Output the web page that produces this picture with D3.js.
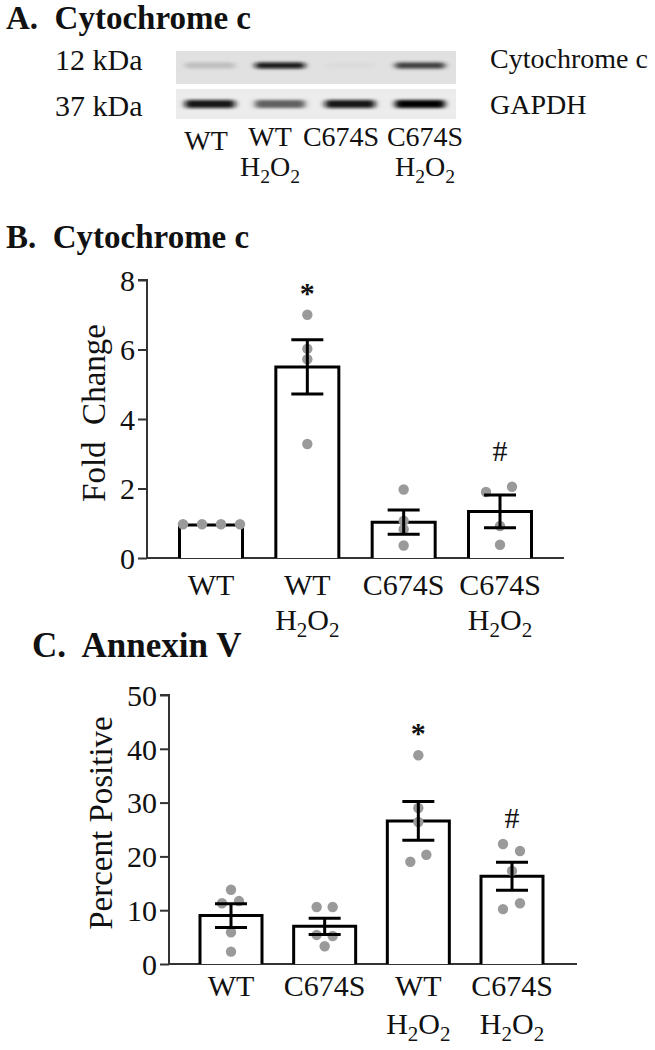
<!DOCTYPE html>
<html>
<head>
<meta charset="utf-8">
<script src="https://cdn.jsdelivr.net/npm/d3@7"></script>
<style>
  body { margin: 0; background: #fff; }
  text { font-family: "Liberation Serif", "Times New Roman", serif; fill: #111; }
</style>
</head>
<body>
<div id="fig"></div>
<script>
// panel A: blot lanes and band strength (0..1, read by eye)
let laneNames = ["WT", "WT", "C674S", "C674S"];
let laneTreat = [false, true, false, true];
let cytoBand = [0.35, 0.95, 0.1, 0.85];
let gapdhBand = [0.95, 0.75, 0.95, 1.0];

// panel B: cytochrome c fold change
let groupsB = ["WT", "WT H2O2", "C674S", "C674S H2O2"];
let meanB = [0.95, 5.5, 1.03, 1.34];
let semB = [0.0, 0.78, 0.35, 0.47];
let pointsB = [
    [0.97, 0.97, 0.97, 0.97],
    [7.0, 6.02, 5.72, 3.28],
    [1.97, 1.07, 0.83, 0.36],
    [1.9, 2.05, 0.92, 0.38]
];
let starB = ["", "*", "", "#"];

// panel C: annexin V percent positive
let groupsC = ["WT", "C674S", "WT H2O2", "C674S H2O2"];
let meanC = [9.0, 7.0, 26.6, 16.3];
let semC = [2.2, 1.5, 3.6, 2.6];
let pointsC = [
    [13.8, 11.3, 11.7, 5.9, 2.3],
    [10.6, 10.6, 5.4, 5.2, 3.3],
    [38.8, 29.0, 26.4, 19.0, 20.3],
    [22.3, 21.0, 17.3, 10.2, 11.3]
];
let starC = ["", "", "*", "#"];

let svg = d3.select("#fig").append("svg")
    .attr("width", 655)
    .attr("height", 1050);

let defs = svg.append("defs");
defs.append("filter").attr("id", "blur")
    .attr("x", "-30%").attr("y", "-100%").attr("width", "160%").attr("height", "300%")
    .append("feGaussianBlur").attr("stdDeviation", "3 1.8");

function title(x, y, txt, size) {
    svg.append("text")
        .attr("x", x).attr("y", y)
        .attr("font-size", size + "px")
        .attr("font-weight", "bold")
        .attr("xml:space", "preserve")
        .text(txt);
}

// two-line group label, second line H2O2 with subscripts
function groupLabel(g, x, y, name, size, gap) {
    let parts = name.split(" ");
    g.append("text")
        .attr("x", x).attr("y", y)
        .attr("text-anchor", "middle")
        .attr("font-size", size + "px")
        .text(parts[0]);
    if (parts.length > 1) {
        let t = g.append("text")
            .attr("x", x).attr("y", y + gap)
            .attr("text-anchor", "middle")
            .attr("font-size", size + "px");
        t.append("tspan").text("H");
        t.append("tspan").attr("font-size", (size * 0.7) + "px").attr("dy", 7).text("2");
        t.append("tspan").attr("dy", -7).text("O");
        t.append("tspan").attr("font-size", (size * 0.7) + "px").attr("dy", 7).text("2");
    }
}

// ---------- A ----------
title(6, 29, "A.  Cytochrome c", 33);

let lanes = d3.scalePoint().domain(d3.range(4)).range([210, 420]);
let blot = svg.append("g");
[[51, 84, "#e1e1e1", cytoBand, 6], [89, 119, "#ececec", gapdhBand, 8]].forEach((row, r) => {
    blot.append("rect")
        .attr("x", 176).attr("y", row[0])
        .attr("width", 280).attr("height", row[1] - row[0])
        .attr("fill", row[2]);
    let mid = (row[0] + row[1]) / 2 + (r === 0 ? -2 : 0);
    row[3].forEach((v, i) => {
        blot.append("rect")
            .attr("x", lanes(i) - 25).attr("y", mid - row[4] / 2)
            .attr("width", 50).attr("height", row[4])
            .attr("rx", 3)
            .attr("fill", d3.interpolateGreys(0.2 + v * 0.8))
            .attr("opacity", 0.25 + v * 0.75)
            .attr("filter", "url(#blur)");
    });
});

svg.append("text").attr("x", 55).attr("y", 70).attr("font-size", "30px").text("12 kDa");
svg.append("text").attr("x", 55).attr("y", 116).attr("font-size", "30px").text("37 kDa");
svg.append("text").attr("x", 490).attr("y", 68).attr("font-size", "28px").text("Cytochrome c");
svg.append("text").attr("x", 490).attr("y", 114).attr("font-size", "28px").text("GAPDH");

let laneLab = d3.scaleOrdinal().domain(d3.range(4)).range([206, 270, 341, 425]);
laneNames.forEach((n, i) => {
    groupLabel(svg, laneLab(i), i === 0 ? 150 : 146, n + (laneTreat[i] ? " H2O2" : ""), 28, 30);
});

// ---------- bar panel ----------
function barPanel(opt) {
    let g = svg.append("g");
    let y = d3.scaleLinear().domain([0, opt.max]).range([opt.y0, opt.y1]);
    let x = d3.scalePoint().domain(opt.groups).range(opt.xr);
    let bw = opt.bw;

    g.append("g")
        .attr("transform", "translate(" + opt.ax + ",0)")
        .call(d3.axisLeft(y).tickValues(d3.range(0, opt.max + 1, opt.step)).tickSize(9).tickPadding(3))
        .call(a => a.selectAll("path, line").attr("stroke", "#333").attr("stroke-width", 2))
        .call(a => a.select(".domain").attr("d", "M-9," + y(opt.max) + "H0V" + y(0)))
        .call(a => a.selectAll("text")
            .attr("font-family", "Liberation Serif")
            .attr("font-size", "30px")
            .attr("fill", "#111")
            .attr("dy", "0.34em"));

    g.append("line")
        .attr("x1", opt.ax).attr("x2", opt.axEnd)
        .attr("y1", y(0)).attr("y2", y(0))
        .attr("stroke", "#333").attr("stroke-width", 2);

    opt.groups.forEach((grp, i) => {
        let cx = x(grp);
        g.append("path")
            .attr("d", "M" + (cx - bw / 2) + "," + y(0) + "V" + y(opt.mean[i]) + "H" + (cx + bw / 2) + "V" + y(0))
            .attr("fill", "#fff")
            .attr("stroke", "#000")
            .attr("stroke-width", 3);
    });

    opt.groups.forEach((grp, i) => {
        let cx = x(grp);
        opt.points[i].forEach((v, j) => {
            g.append("circle")
                .attr("cx", cx + opt.jitter[i][j])
                .attr("cy", y(v))
                .attr("r", 5.2)
                .attr("fill", "#9a9a9a");
        });
    });

    opt.groups.forEach((grp, i) => {
        let cx = x(grp);
        if (opt.sem[i] > 0) {
            let hi = y(opt.mean[i] + opt.sem[i]), lo = y(opt.mean[i] - opt.sem[i]);
            g.append("path")
                .attr("d", "M" + cx + "," + hi + "V" + lo +
                    "M" + (cx - 16) + "," + hi + "H" + (cx + 16) +
                    "M" + (cx - 16) + "," + lo + "H" + (cx + 16))
                .attr("fill", "none")
                .attr("stroke", "#000")
                .attr("stroke-width", 3);
        }
        let m = opt.marks[i];
        if (m) {
            g.append("text")
                .attr("x", cx)
                .attr("y", m === "*" ? y(d3.max(opt.points[i])) - 12 : y(opt.mean[i] + opt.sem[i]) - 34)
                .attr("text-anchor", "middle")
                .attr("font-size", "30px")
                .attr("font-weight", m === "*" ? "bold" : "normal")
                .text(m);
        }
        groupLabel(g, cx, opt.labY, grp, 30, opt.labGap);
    });

    g.append("text")
        .attr("transform", "translate(" + opt.titleX + "," + opt.titleY + ") rotate(-90)")
        .attr("text-anchor", "middle")
        .attr("font-size", "33px")
        .attr("fill", "#333")
        .attr("xml:space", "preserve")
        .text(opt.yTitle);
}

title(6, 248, "B.  Cytochrome c", 33);
barPanel({
    groups: groupsB, mean: meanB, sem: semB, points: pointsB, marks: starB,
    max: 8, step: 2, y0: 558, y1: 280, ax: 147, axEnd: 564,
    xr: [211, 500], bw: 63, labY: 595, labGap: 35, titleX: 105, titleY: 413, yTitle: "Fold  Change",
    jitter: [[-28, -9, 10, 29], [0, 0, 0, 0], [0, 0, 0, 0], [-14, 12, 0, 0]]
});

title(32, 657, "C.  Annexin V", 35);
barPanel({
    groups: groupsC, mean: meanC, sem: semC, points: pointsC, marks: starC,
    max: 50, step: 10, y0: 964, y1: 695, ax: 169, axEnd: 577,
    xr: [231, 512], bw: 62, labY: 996, labGap: 38, titleX: 112, titleY: 823, yTitle: "Percent Positive",
    jitter: [[0, -9, 8, 0, 0], [-8, 8, -8, 8, 0], [0, 0, 0, -8, 8], [-9, 8, 0, -9, 8]]
});
</script>
</body>
</html>
